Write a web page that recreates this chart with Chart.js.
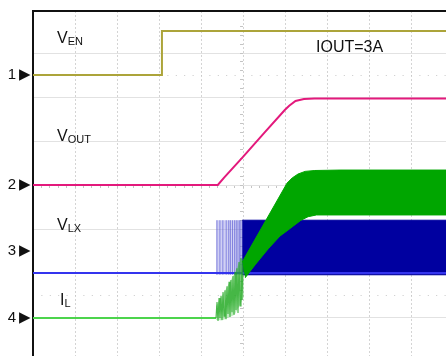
<!DOCTYPE html>
<html lang="en">
<head>
    <meta charset="UTF-8">
    <title>Soft-start waveform</title>
    <script src="https://cdn.jsdelivr.net/npm/chart.js"></script>
    <style>
        body { margin: 0; background: #fff; }
        #wrap { position: relative; width: 446px; height: 356px; overflow: hidden; }
        .lbl { position: absolute; font: 16px "Liberation Sans", Arial, sans-serif; color: #111; line-height: 16px; white-space: nowrap; }
        .lbl sub { font-size: 11px; vertical-align: -2px; line-height: 0; }
    </style>
</head>
<body>
<div id="wrap">
    <canvas id="scope"></canvas>
    <div class="lbl" style="left:57px; top:30px">V<sub>EN</sub></div>
    <div class="lbl" style="left:57px; top:128px">V<sub>OUT</sub></div>
    <div class="lbl" style="left:57px; top:217px">V<sub>LX</sub></div>
    <div class="lbl" style="left:60px; top:292px">I<sub>L</sub></div>
    <div class="lbl" style="left:316px; top:39px">IOUT=3A</div>
</div>

<script>
// time in divisions from left screen edge, amplitude in divisions from centre line
const X_MAX = 9.833;
const Y_MIN = -3.886;
const Y_MAX = 3.955;
const gridX = [1, 2, 3, 4, 5, 6, 7, 8, 9];
const gridY = [-3, -2, -1, 0, 1, 2, 3];
const refY = [2.5, -2.5];

// channel markers on the left
const markerNames = ['1', '2', '3', '4'];
const markerLevels = [2.5, 0, -1.5, -3.02];

// CH1 EN
const venX = [0, 3.07, 3.07, 9.9];
const venY = [2.5, 2.5, 3.5, 3.5];

// CH2 VOUT
const voutX = [0, 4.4, 4.55, 5.0, 5.5, 6.0, 6.1, 6.25, 6.45, 6.7, 9.9];
const voutY = [0, 0, 0.17, 0.64, 1.18, 1.71, 1.8, 1.91, 1.955, 1.965, 1.965];

// CH3 LX
const lxBaseX = [0, 9.9];
const lxBaseY = [-2.0, -2.0];
const lxTop = -0.8;
const lxBottom = -2.04;
const lxStart = 4.36;
const lxSteady = 4.98;
const lxEdgesX = [4.38, 4.45, 4.52, 4.6, 4.66, 4.7, 4.75, 4.8, 4.84, 4.88, 4.92, 4.95];

// CH4 IL
const ilBaseX = [0, 4.357];
const ilBaseY = [-3.02, -3.02];
const ilNoiseX = [4.357, 4.381, 4.405, 4.429, 4.452, 4.476, 4.5, 4.524, 4.548, 4.571, 4.595, 4.619, 4.643, 4.667,
                  4.69, 4.714, 4.738, 4.762, 4.786, 4.81, 4.833, 4.857, 4.881, 4.905, 4.929, 4.952, 4.976, 5.0];
const ilNoiseY = [-3.02, -2.66, -3.09, -2.57, -3.02, -2.52, -3.07, -2.43, -2.98, -2.39, -3.05, -2.3, -2.93, -2.2,
                  -3.0, -2.16, -2.89, -2.07, -2.95, -1.98, -2.84, -1.89, -2.91, -1.75, -2.75, -1.66, -2.61, -1.8];
const ilHazeX = [4.36, 4.6, 4.8, 4.95, 5.02, 5.02, 4.8, 4.5, 4.36];
const ilHazeY = [-2.75, -2.35, -2.0, -1.66, -1.75, -2.55, -2.95, -3.08, -3.06];
const ilUpperX = [4.98, 6.05, 6.17, 6.31, 6.48, 6.71, 7.31, 9.9];
const ilUpperY = [-1.75, 0.045, 0.16, 0.25, 0.31, 0.33, 0.34, 0.34];
const ilLowerX = [9.9, 6.75, 6.55, 6.38, 6.2, 6.05, 5.88, 5.6, 5.3, 5.05];
const ilLowerY = [-0.68, -0.68, -0.72, -0.8, -0.93, -1.04, -1.16, -1.45, -1.8, -2.11];

const pts = (xs, ys) => xs.map((x, i) => ({ x: x, y: ys[i] }));

const lxBand = pts([lxSteady, X_MAX + 0.1, X_MAX + 0.1, lxSteady], [lxTop, lxTop, lxBottom, lxBottom]);
const lxLight = pts([lxStart, lxSteady, lxSteady, lxStart], [lxTop, lxTop, lxBottom, lxBottom]);
const lxEdges = [];
lxEdgesX.forEach(x => {
    lxEdges.push({ x: x, y: lxBottom }, { x: x, y: lxTop }, { x: x, y: null });
});
const ilBand = pts(ilUpperX.concat(ilLowerX), ilUpperY.concat(ilLowerY));

const line = (data, color, width, order, extra) => Object.assign({
    data: data, borderColor: color, borderWidth: width, pointRadius: 0, tension: 0, fill: false, order: order
}, extra || {});

new Chart(document.getElementById('scope'), {
    type: 'line',
    data: {
        datasets: [
            line(pts(venX, venY), '#aca43a', 2, 1),
            line(pts(voutX, voutY), '#e3197c', 2, 1),
            line(ilBand, '#00a600', 1, 1, { fill: 'shape', backgroundColor: '#00a600' }),
            line(pts(ilNoiseX, ilNoiseY), 'rgba(30,165,30,0.75)', 1.2, 2),
            line(pts(ilHazeX, ilHazeY), 'rgba(0,0,0,0)', 0, 2, { fill: 'shape', backgroundColor: 'rgba(70,195,70,0.35)' }),
            line(pts(ilBaseX, ilBaseY), '#4cd44c', 2, 2),
            line(pts(lxBaseX, lxBaseY), '#3434ee', 2, 3),
            line(lxEdges, 'rgba(70,70,205,0.55)', 1, 4),
            line(lxLight, 'rgba(150,150,230,0.45)', 0, 5, { fill: 'shape', backgroundColor: 'rgba(150,150,230,0.45)' }),
            line(lxBand, '#0000a0', 1, 6, { fill: 'shape', backgroundColor: '#0000a0' })
        ]
    },
    options: {
        animation: false,
        responsive: true,
        maintainAspectRatio: false,
        layout: { padding: { top: 11, left: 0, right: 0, bottom: 0 } },
        plugins: { legend: { display: false }, tooltip: { enabled: false } },
        scales: {
            x: {
                type: 'linear', min: 0, max: X_MAX,
                afterBuildTicks: s => { s.ticks = gridX.map(v => ({ value: v })); },
                ticks: { display: false },
                grid: { color: '#d4d4d4', drawTicks: false },
                border: { display: false, dash: [2, 2] }
            },
            xt: {
                type: 'linear', position: 'top', min: 0, max: X_MAX,
                ticks: { display: false },
                grid: { drawOnChartArea: false, drawTicks: false },
                border: { color: '#111', width: 2 }
            },
            xc: {
                type: 'linear', axis: 'x', position: { y: 0 }, min: 0, max: X_MAX,
                ticks: { display: false, stepSize: 0.2 },
                grid: { drawOnChartArea: false, drawTicks: true, tickLength: 3, tickColor: '#c4c4c4' },
                border: { display: false }
            },
            y: {
                position: 'left', min: Y_MIN, max: Y_MAX,
                afterBuildTicks: s => { s.ticks = markerLevels.map(v => ({ value: v })); },
                afterFit: s => { s.width = 33; s.paddingTop = 0; s.paddingBottom = 0; },
                ticks: {
                    callback: (v, i) => markerNames[i] + '\u2009\u25B6',
                    color: '#111', padding: 2,
                    font: { family: 'Liberation Sans, Arial, sans-serif', size: 15 }
                },
                grid: { drawOnChartArea: false, drawTicks: false },
                border: { color: '#111', width: 2 }
            },
            yg: {
                position: 'right', min: Y_MIN, max: Y_MAX,
                afterBuildTicks: s => { s.ticks = gridY.map(v => ({ value: v })); },
                ticks: { display: false },
                grid: { color: '#e2e2e2', drawTicks: false },
                border: { display: false }
            },
            yd: {
                position: 'right', min: Y_MIN, max: Y_MAX,
                afterBuildTicks: s => { s.ticks = refY.map(v => ({ value: v })); },
                ticks: { display: false },
                grid: { color: '#c8c8c8', drawTicks: false },
                border: { display: false, dash: [1, 7.4] }
            },
            yc: {
                type: 'linear', axis: 'y', position: { x: 5 }, min: Y_MIN, max: Y_MAX,
                ticks: { display: false, stepSize: 0.2 },
                grid: { drawOnChartArea: false, drawTicks: true, tickLength: 3, tickColor: '#c4c4c4' },
                border: { display: false }
            }
        }
    }
});
</script>
</body>
</html>
